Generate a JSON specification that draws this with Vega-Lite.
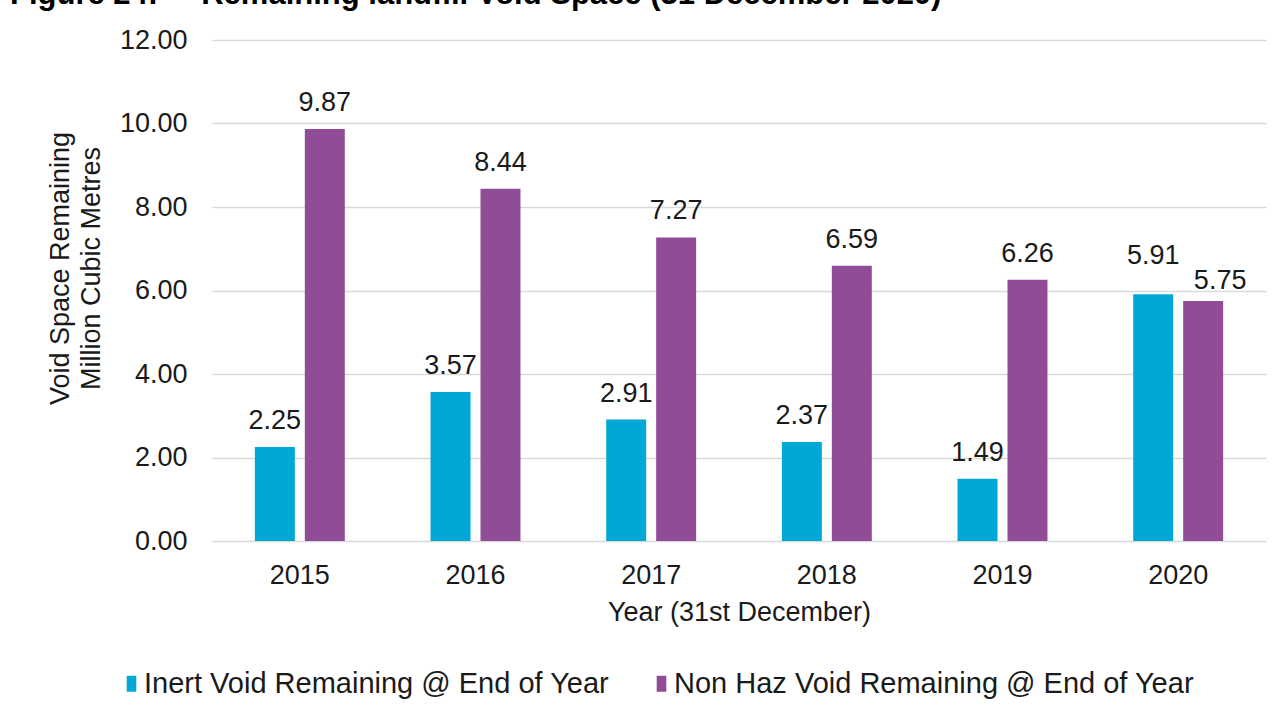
{
  "$schema": "https://vega.github.io/schema/vega-lite/v6.json",
  "width": 1054,
  "height": 501,
  "autosize": {"type": "none"},
  "padding": {"left": 212, "top": 40, "right": 15, "bottom": 174},
  "background": "white",
  "config": {
    "font": "Liberation Sans",
    "view": {"stroke": null},
    "axis": {"labelFont": "Liberation Sans", "titleFont": "Liberation Sans", "labelColor": "#1a1a1a", "titleColor": "#1a1a1a", "titleFontWeight": "normal"}
  },
  "title": {
    "text": "Figure 24:\u00a0\u00a0\u00a0\u00a0\u00a0Remaining landfill Void Space (31 December 2020)",
    "anchor": "start",
    "frame": "group",
    "orient": "top",
    "fontSize": 31,
    "fontWeight": "bold",
    "color": "#000000",
    "font": "Liberation Sans",
    "baseline": "alphabetic",
    "offset": 0,
    "dx": -202,
    "dy": 9
  },
  "data": {
    "values": [
      {"year": "2015", "series": "Inert Void Remaining @ End of Year", "value": 2.25},
      {"year": "2015", "series": "Non Haz Void Remaining @ End of Year", "value": 9.87},
      {"year": "2016", "series": "Inert Void Remaining @ End of Year", "value": 3.57},
      {"year": "2016", "series": "Non Haz Void Remaining @ End of Year", "value": 8.44},
      {"year": "2017", "series": "Inert Void Remaining @ End of Year", "value": 2.91},
      {"year": "2017", "series": "Non Haz Void Remaining @ End of Year", "value": 7.27},
      {"year": "2018", "series": "Inert Void Remaining @ End of Year", "value": 2.37},
      {"year": "2018", "series": "Non Haz Void Remaining @ End of Year", "value": 6.59},
      {"year": "2019", "series": "Inert Void Remaining @ End of Year", "value": 1.49},
      {"year": "2019", "series": "Non Haz Void Remaining @ End of Year", "value": 6.26},
      {"year": "2020", "series": "Inert Void Remaining @ End of Year", "value": 5.91},
      {"year": "2020", "series": "Non Haz Void Remaining @ End of Year", "value": 5.75}
    ]
  },
  "encoding": {
    "x": {
      "field": "year", "type": "nominal",
      "scale": {"paddingInner": 0.488, "paddingOuter": 0.244},
      "axis": {
        "title": "Year (31st December)", "labelAngle": 0, "labelFontSize": 27, "titleFontSize": 27,
        "ticks": false, "tickSize": 0, "domain": false, "labelPadding": 21, "titlePadding": 11
      }
    },
    "xOffset": {
      "field": "series", "type": "nominal",
      "sort": ["Inert Void Remaining @ End of Year", "Non Haz Void Remaining @ End of Year"],
      "scale": {"paddingInner": 0.2, "paddingOuter": 0}
    },
    "y": {
      "field": "value", "type": "quantitative",
      "scale": {"domain": [0, 12], "nice": false},
      "axis": {
        "title": ["Void Space Remaining", "Million Cubic Metres"],
        "values": [0, 2, 4, 6, 8, 10, 12], "format": ".2f",
        "labelFontSize": 27, "titleFontSize": 27, "titleLineHeight": 31,
        "ticks": false, "tickSize": 0, "domain": false, "labelPadding": 25,
        "gridColor": "#d9d9d9", "gridWidth": 1.5,
        "titleX": -138, "titleY": 228, "titleAlign": "center", "titleBaseline": "bottom", "titleAngle": -90
      }
    }
  },
  "layer": [
    {
      "mark": {"type": "bar"},
      "encoding": {
        "color": {
          "field": "series", "type": "nominal",
          "scale": {
            "domain": ["Inert Void Remaining @ End of Year", "Non Haz Void Remaining @ End of Year"],
            "range": ["#00A8D5", "#904C97"]
          },
          "legend": {
            "title": null, "orient": "none", "direction": "horizontal",
            "legendX": -95, "legendY": 629, "padding": 0,
            "symbolType": "M-0.6,-1H0.6V1H-0.6Z", "symbolSize": 256, "symbolStrokeWidth": 0,
            "labelFontSize": 29, "labelFont": "Liberation Sans", "labelColor": "#1a1a1a",
            "labelOffset": -2, "columnPadding": 37, "labelLimit": 1000
          }
        }
      }
    },
    {
      "transform": [{"filter": "datum.year != '2020'"}],
      "mark": {"type": "text", "baseline": "alphabetic", "dy": -18, "fontSize": 27, "color": "#1a1a1a"},
      "encoding": {"text": {"field": "value", "type": "quantitative", "format": ".2f"}}
    },
    {
      "transform": [{"filter": "datum.year == '2020' && datum.series == 'Inert Void Remaining @ End of Year'"}],
      "mark": {"type": "text", "baseline": "alphabetic", "dy": -30, "fontSize": 27, "color": "#1a1a1a"},
      "encoding": {"text": {"field": "value", "type": "quantitative", "format": ".2f"}}
    },
    {
      "transform": [{"filter": "datum.year == '2020' && datum.series == 'Non Haz Void Remaining @ End of Year'"}],
      "mark": {"type": "text", "baseline": "alphabetic", "dy": -12, "dx": 17, "fontSize": 27, "color": "#1a1a1a"},
      "encoding": {"text": {"field": "value", "type": "quantitative", "format": ".2f"}}
    }
  ]
}
